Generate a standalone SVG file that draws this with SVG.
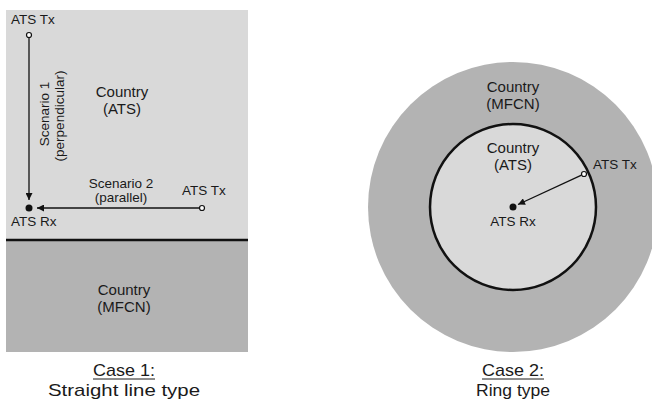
<svg xmlns="http://www.w3.org/2000/svg" width="652" height="403" viewBox="0 0 652 403">
<defs>
<style>
text{font-family:"Liberation Sans",Arial,sans-serif;fill:#1a1a1a;}
.lbl{font-size:13.5px;}
.reg{font-size:15px;text-anchor:middle;}
.cap{font-size:17px;text-anchor:middle;}
.conn{stroke:#111;stroke-width:1.3;fill:none;}
.tx{fill:#fff;stroke:#111;stroke-width:1.2;}
.rx{fill:#111;}
</style>
<marker id="ah" viewBox="0 0 10 10" refX="10" refY="5" markerWidth="8" markerHeight="7" markerUnits="userSpaceOnUse" orient="auto">
<path d="M0,0 L10,5 L0,10 z" fill="#111"/>
</marker>
</defs>
<rect width="652" height="403" fill="#fff"/>
<g id="case1">
<rect id="ats-area1" x="6" y="10" width="242" height="230" fill="#d9d9d9"/>
<rect id="mfcn-area1" x="6" y="240" width="242" height="112" fill="#b3b3b3"/>
<line x1="6" y1="240" x2="248" y2="240" stroke="#111" stroke-width="2.5"/>
<g id="country-ats1"><text class="reg" x="122" y="97">Country</text><text class="reg" x="122" y="114">(ATS)</text></g>
<g id="country-mfcn1"><text class="reg" x="124" y="295">Country</text><text class="reg" x="124" y="312">(MFCN)</text></g>
<g id="tx1"><circle class="tx" cx="29" cy="35" r="2.5"/><text class="lbl" x="11" y="24">ATS Tx</text></g>
<g id="tx2"><circle class="tx" cx="202" cy="208" r="2.5"/><text class="lbl" x="182" y="195">ATS Tx</text></g>
<g id="rx1"><circle class="rx" cx="29" cy="208" r="3.5"/><text class="lbl" x="11" y="226">ATS Rx</text></g>
<text class="lbl" font-size="14px" text-anchor="middle" transform="translate(49,114) rotate(-90)">Scenario 1</text>
<text class="lbl" font-size="14px" text-anchor="middle" transform="translate(64,116) rotate(-90)">(perpendicular)</text>
<text class="lbl" text-anchor="middle" x="121" y="188">Scenario 2</text>
<text class="lbl" text-anchor="middle" x="121" y="202">(parallel)</text>
<g id="case1-caption"><text class="cap" x="124" y="376" textLength="62" lengthAdjust="spacingAndGlyphs">Case 1:</text><line x1="93" y1="379" x2="155" y2="379" stroke="#1a1a1a" stroke-width="1"/><text class="cap" x="124" y="396" textLength="152" lengthAdjust="spacingAndGlyphs">Straight line type</text></g>
</g>
<g id="case2">
<circle id="mfcn-area2" cx="513" cy="207" r="145" fill="#b3b3b3"/>
<circle id="ats-area2" cx="513" cy="207" r="83" fill="#d9d9d9" stroke="#111" stroke-width="2.5"/>
<g id="country-mfcn2"><text class="reg" x="513" y="92">Country</text><text class="reg" x="513" y="109">(MFCN)</text></g>
<g id="country-ats2"><text class="reg" x="513" y="153">Country</text><text class="reg" x="513" y="170">(ATS)</text></g>
<g id="tx3"><circle class="tx" cx="584" cy="174" r="2.5"/><text class="lbl" x="593" y="169">ATS Tx</text></g>
<g id="rx2"><circle class="rx" cx="513" cy="207" r="3.5"/><text class="lbl" text-anchor="middle" x="513" y="226">ATS Rx</text></g>
<g id="case2-caption"><text class="cap" x="513" y="376" textLength="62" lengthAdjust="spacingAndGlyphs">Case 2:</text><line x1="482" y1="379" x2="544" y2="379" stroke="#1a1a1a" stroke-width="1"/><text class="cap" x="513" y="396" textLength="74" lengthAdjust="spacingAndGlyphs">Ring type</text></g>
</g>
<g id="connectors">
<line class="conn" x1="29" y1="38" x2="29" y2="200" marker-end="url(#ah)"/>
<line class="conn" x1="199" y1="208" x2="37" y2="208" marker-end="url(#ah)"/>
<line class="conn" x1="581.5" y1="175.2" x2="518" y2="204.5" marker-end="url(#ah)"/>
</g>
</svg>
